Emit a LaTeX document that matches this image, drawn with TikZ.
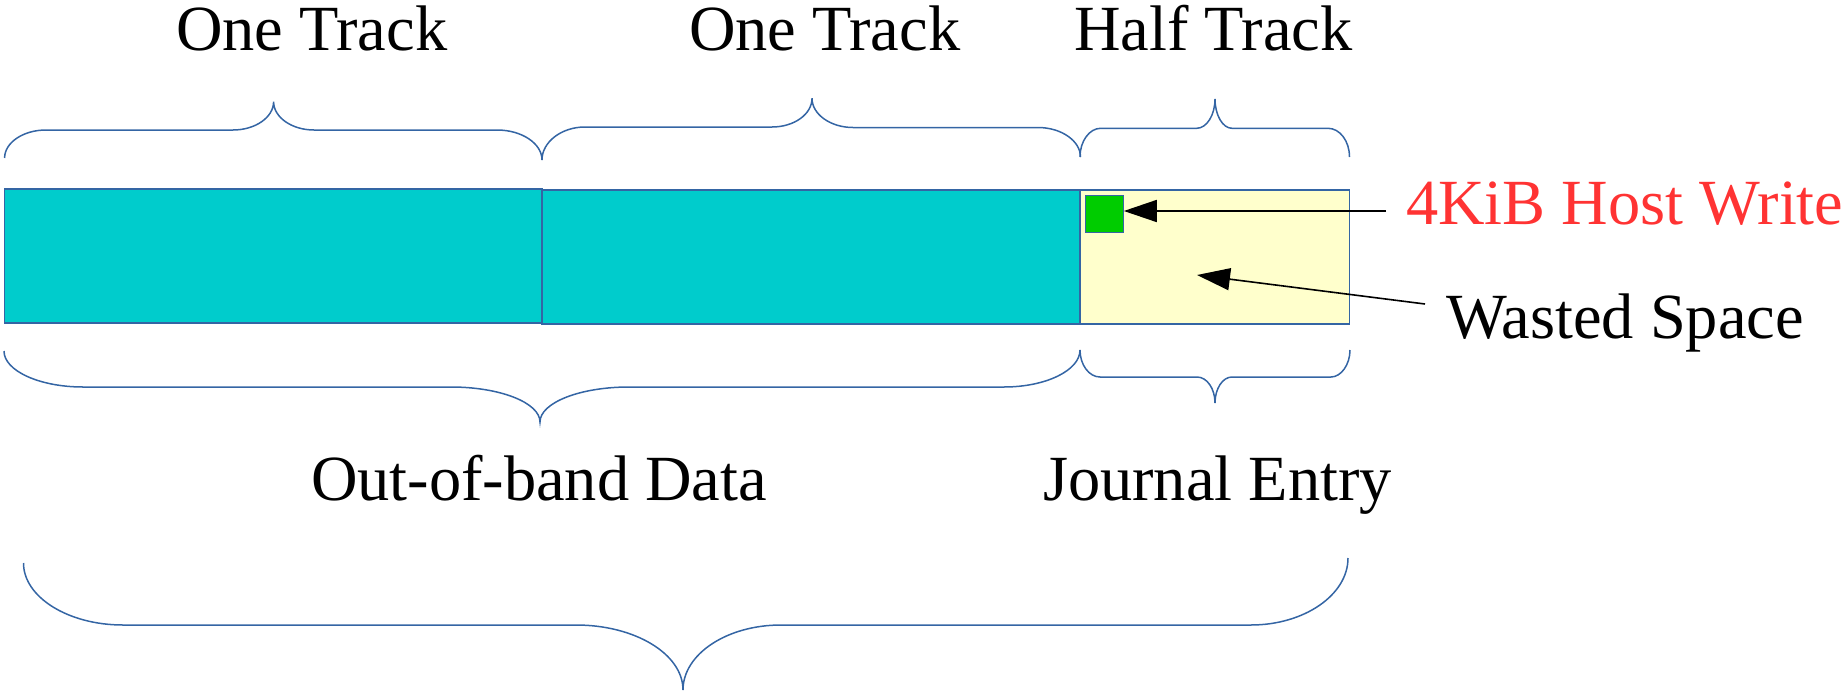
\documentclass[tikz,border=0pt]{standalone}
\usepackage{fontspec}
\setmainfont{Liberation Serif}
\usetikzlibrary{arrows.meta}
\definecolor{teal1}{HTML}{00CCCC}
\definecolor{yel1}{HTML}{FFFFCC}
\definecolor{grn1}{HTML}{00CC00}
\definecolor{edge1}{HTML}{3465A4}
\definecolor{red1}{HTML}{FF3333}
\tikzset{
  bracestyle/.style={draw=edge1, line width=0.75pt},
  boxstyle/.style={draw=edge1, line width=0.6pt, anchor=north west, inner sep=0pt, outer sep=0pt},
  lbl/.style={anchor=base west, inner sep=0pt, outer sep=0pt, font=\fontsize{32.2pt}{36pt}\selectfont},
  arr/.style={draw=black, line width=0.8pt, -{Triangle[length=16.5pt, width=11pt]}},
}
\begin{document}
\begin{tikzpicture}[x=0.5pt, y=-0.5pt]
\useasboundingbox (0,0) rectangle (1843,691);
% boxes
\node[boxstyle, fill=teal1, minimum width=268.7pt, minimum height=67pt] (b1) at (4.6,189) {};
\node[boxstyle, fill=teal1, minimum width=269pt, minimum height=67pt] (b2) at (542,190) {};
\node[boxstyle, fill=yel1, minimum width=134.75pt, minimum height=67pt] (b3) at (1080,190) {};
\node[boxstyle, fill=grn1, minimum width=19.2pt, minimum height=18.7pt] (green) at (1085.4,195.3) {};
% top braces
\path[bracestyle] (4.6,158) .. controls +(0,-15.4) and +(-22.8,0) .. (46,130) -- (233,130)
  .. controls +(22.3,0) and +(0,15.6) .. (273.6,101.7)
  .. controls +(0,15.6) and +(-22.2,0) .. (314,130) -- (497,130)
  .. controls +(24.8,0) and +(0,-16.5) .. (542,160);
\path[bracestyle] (542,160) .. controls +(0,-18) and +(-23.6,0) .. (585,127) -- (772,127)
  .. controls +(22,0) and +(0,16) .. (812,98.3)
  .. controls +(0,16) and +(-22.5,0) .. (853,127.5) -- (1038,127.5)
  .. controls +(23.4,0) and +(0,-16) .. (1080.5,157);
\path[bracestyle] (1080,157) .. controls +(0,-16) and +(-11,0) .. (1100.6,128.3) -- (1196.7,128.3)
  .. controls +(10,0) and +(0,16) .. (1215,99)
  .. controls +(0,16) and +(-9.4,0) .. (1232,128.3) -- (1328,128.3)
  .. controls +(11.8,0) and +(0,-16) .. (1349.5,157);
% bottom braces
\path[bracestyle] (4,351) .. controls +(0,19.8) and +(-43.5,0) .. (83,387) -- (451,387)
  .. controls +(49,0) and +(0,-19.3) .. (540,422)
  .. controls +(0,-19.3) and +(-49,0) .. (629,387) -- (1004,387)
  .. controls +(41.8,0) and +(0,20.4) .. (1080,350);
\path[bracestyle] (1080,350) .. controls +(0,14.7) and +(-11,0) .. (1100,377) -- (1197,377)
  .. controls +(10,0) and +(0,-14.3) .. (1215,403)
  .. controls +(0,-14.3) and +(-9.4,0) .. (1232,377) -- (1331,377)
  .. controls +(10,0) and +(0,14.7) .. (1350,350);
\path[bracestyle] (23.5,563) .. controls +(0,34) and +(-55,0) .. (123,625) -- (576,625)
  .. controls +(59,0) and +(0,-36) .. (683,690)
  .. controls +(0,-36) and +(-54,0) .. (781,625) -- (1251,625)
  .. controls +(53,0) and +(0,37) .. (1348,558);
% labels
\node[lbl] (t1) at (176,50) {One Track};
\node[lbl] (t2) at (689,50) {One Track};
\node[lbl] (t3) at (1074,50) {Half Track};
\node[lbl, text=red1] (host) at (1406,224) {4KiB Host Write};
\node[lbl] (waste) at (1446,338) {Wasted Space};
\node[lbl] (oob) at (311,500) {Out-of-band Data};
\node[lbl] (jour) at (1043,500) {Journal Entry};
% arrows
\coordinate (a1) at (1386,211);
\coordinate (a2) at (1425,304);
\coordinate (a2tip) at (1197,275);
\draw[arr] (a1) -- (a1 -| green.east);
\draw[arr] (a2) -- (a2tip);
\end{tikzpicture}
\end{document}
